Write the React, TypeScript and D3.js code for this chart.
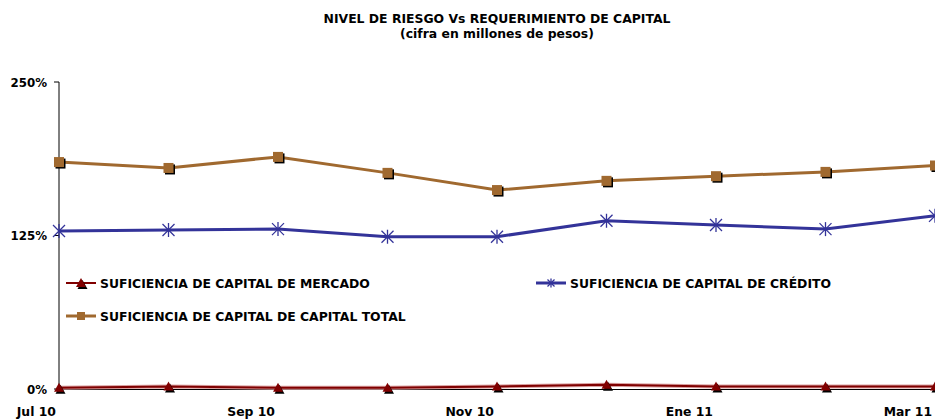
import React from "react";
import * as d3 from "d3";

const months = ["Jul 10", "Ago 10", "Sep 10", "Oct 10", "Nov 10", "Dic 10", "Ene 11", "Feb 11", "Mar 11"];
const tickLabels = ["Jul 10", "Sep 10", "Nov 10", "Ene 11", "Mar 11"];
const yTicks = [0, 125, 250];
const mercado = [1, 2, 1, 1, 2, 3.5, 2, 2, 2];
const credito = [128.7, 129.5, 130.2, 124, 124, 137, 133.5, 130.2, 141];
const total = [184.8, 180, 189, 176, 162, 169.5, 173.3, 176.8, 182];

const W = 935, H = 420;
const FONT = "'DejaVu Sans', Verdana, sans-serif";
const RED = "#800000", BLUE = "#333399", BROWN = "#A0692F";
const FS = 12.4;

export default function App() {
  const x = d3.scalePoint<string>().domain(months).range([59, 935]);
  const y = d3.scaleLinear().domain([0, 250]).range([389, 82]);
  const line = (vals: number[]) =>
    d3.line<number>().x((_, i) => x(months[i]) as number).y((d) => y(d))(vals) as string;

  const tri = (cx: number, cy: number, fill: string, k: string) => (
    <g key={k}>
      <path d={`M${cx + 1.5},${cy - 3} L${cx + 6.5},${cy + 6} L${cx - 3.5},${cy + 6} Z`} fill="#000" />
      <path d={`M${cx},${cy - 5} L${cx + 5},${cy + 4} L${cx - 5},${cy + 4} Z`} fill={fill} />
    </g>
  );
  const sq = (cx: number, cy: number, fill: string, k: string) => (
    <g key={k}>
      <rect x={cx - 3.5} y={cy - 3.5} width={10} height={10} fill="#000" />
      <rect x={cx - 5} y={cy - 5} width={10} height={10} fill={fill} />
    </g>
  );
  const star = (cx: number, cy: number, color: string, k: string, r = 6) => (
    <g key={k} stroke={color} strokeWidth={1.3}>
      <line x1={cx - r} y1={cy - r} x2={cx + r} y2={cy + r} />
      <line x1={cx - r} y1={cy + r} x2={cx + r} y2={cy - r} />
      <line x1={cx} y1={cy - r - 1} x2={cx} y2={cy + r + 1} />
    </g>
  );

  return (
    <div style={{ position: "fixed", left: 0, top: 0 }}>
      <svg width={W} height={H} style={{ display: "block", background: "#fff" }} fontFamily={FONT}>
        <defs>
          <clipPath id="clip">
            <rect x={0} y={0} width={W} height={H} />
          </clipPath>
        </defs>
        <text x={497} y={23} textAnchor="middle" fontSize={FS} fontWeight="bold">
          NIVEL DE RIESGO Vs REQUERIMIENTO DE CAPITAL
        </text>
        <text x={497} y={38} textAnchor="middle" fontSize={FS} fontWeight="bold">
          (cifra en millones de pesos)
        </text>

        {/* axes */}
        <line x1={59} y1={82} x2={59} y2={390} stroke="#000" strokeWidth={1} />
        <line x1={59} y1={389.5} x2={935} y2={389.5} stroke="#000" strokeWidth={1} />
        {yTicks.map((t) => (
          <g key={t}>
            <line x1={54} x2={59} y1={y(t)} y2={y(t)} stroke="#000" />
            <text x={47} y={y(t) + 4.5} textAnchor="end" fontSize={11.8} fontWeight="bold">
              {t}%
            </text>
          </g>
        ))}
        {tickLabels.map((m) => (
          <text key={m} x={(x(m) as number) - 3} y={416} textAnchor="end" fontSize={FS} fontWeight="bold">
            {m}
          </text>
        ))}

        {/* series */}
        <g clipPath="url(#clip)">
          <path d={line(total)} fill="none" stroke={BROWN} strokeWidth={3} />
          {total.map((v, i) => sq(x(months[i]) as number, y(v), BROWN, "s" + i))}
          <path d={line(credito)} fill="none" stroke={BLUE} strokeWidth={3} />
          {credito.map((v, i) => star(x(months[i]) as number, y(v), BLUE, "c" + i))}
          <path d={line(mercado)} fill="none" stroke="#d9a0a0" strokeWidth={4} />
          <path d={line(mercado)} fill="none" stroke={RED} strokeWidth={2} />
          {mercado.map((v, i) => tri(x(months[i]) as number, y(v), RED, "m" + i))}
        </g>

        {/* legend */}
        <g>
          <line x1={66} x2={96} y1={283} y2={283} stroke={RED} strokeWidth={2} />
          {tri(81, 283, RED, "lm")}
          <text x={100} y={287.5} fontSize={FS} fontWeight="bold">SUFICIENCIA DE CAPITAL DE MERCADO</text>

          <line x1={536} x2={566} y1={283} y2={283} stroke={BLUE} strokeWidth={3} />
          {star(551, 283, BLUE, "lc", 3.5)}
          <text x={570} y={287.5} fontSize={FS} fontWeight="bold">SUFICIENCIA DE CAPITAL DE CRÉDITO</text>

          <line x1={66} x2={96} y1={316} y2={316} stroke={BROWN} strokeWidth={3} />
          <rect x={77} y={312} width={8} height={8} fill={BROWN} />
          <text x={100} y={320.5} fontSize={FS} fontWeight="bold">SUFICIENCIA DE CAPITAL DE CAPITAL TOTAL</text>
        </g>
      </svg>
    </div>
  );
}
